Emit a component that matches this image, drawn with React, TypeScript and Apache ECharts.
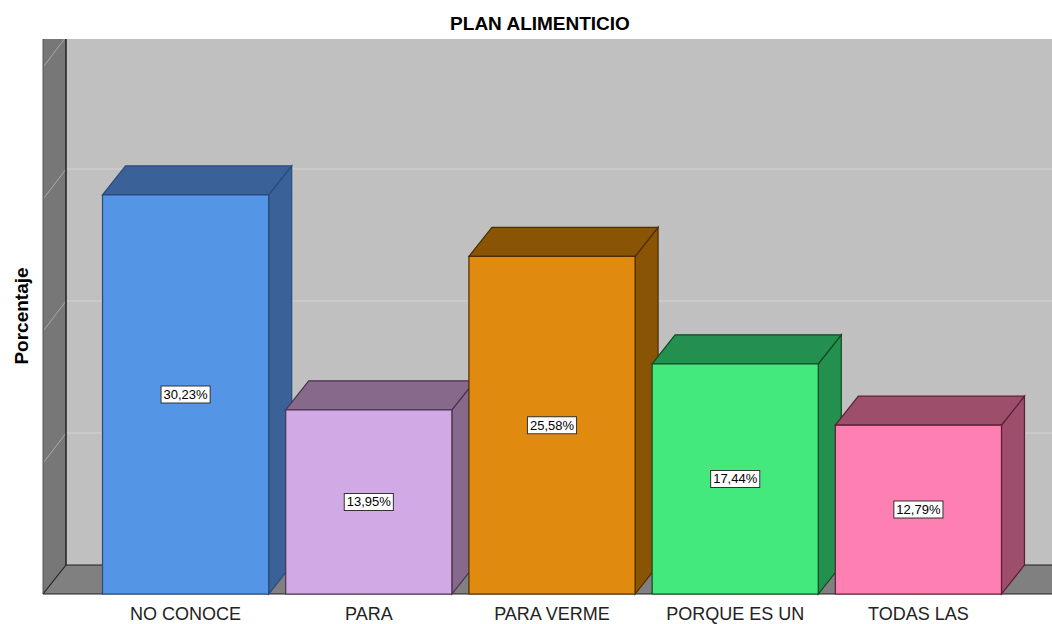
import React, { useEffect, useRef } from "react";
import * as echarts from "echarts";

const categories = ["NO CONOCE", "PARA", "PARA VERME", "PORQUE ES UN", "TODAS LAS"];
const percentages = [30.23, 13.95, 25.58, 17.44, 12.79];
const gridTicks = [10, 20, 30, 40];
const axisMax = 40;

const frontColors = ["#5595e5", "#d0a9e5", "#e08a0f", "#44e97e", "#fe7fb1"];
const darkColors = ["#3a6198", "#87698b", "#8a5405", "#249050", "#9c4e6b"];
const edgeColors = ["#2a4a7a", "#4a334e", "#4f2c00", "#0f4a22", "#5a1e35"];

const FONT = "'Liberation Sans', Arial, Helvetica, sans-serif";
const DX = 23;
const DY = 29;
const WALL_OFFSET = 51;

export default function App() {
  const ref = useRef<HTMLDivElement>(null);
  useEffect(() => {
    document.body.style.margin = "0";
    if (!ref.current) return;
    const chart = echarts.init(ref.current, null, { renderer: "svg" });

    const wallRender = (params: any, api: any) => {
      const cs = params.coordSys;
      const y0 = api.coord([0, 0])[1];
      const left = cs.x - WALL_OFFSET;
      const inner = left + DX;
      const right = api.getWidth();
      const top = api.coord([0, axisMax])[1] - DY + 2;
      const backY0 = y0 - DY;
      const children: any[] = [];
      children.push({
        type: "rect",
        shape: { x: inner, y: top, width: right - inner, height: backY0 - top },
        style: { fill: "#c0c0c0" },
      });
      gridTicks.forEach((v) => {
        const gy = api.coord([0, v])[1];
        if (gy - DY > top) {
          children.push({
            type: "line",
            shape: { x1: inner, y1: gy - DY, x2: right, y2: gy - DY },
            style: { stroke: "#d4d4d4", lineWidth: 1 },
          });
        }
      });
      children.push({
        type: "polygon",
        shape: { points: [[left, top], [inner, top], [inner, backY0], [left, y0]] },
        style: { fill: "#777777" },
      });
      gridTicks.forEach((v) => {
        const gy = api.coord([0, v])[1];
        const yEnd = Math.max(gy - DY, top);
        const xEnd = left + (DX * (gy - yEnd)) / DY;
        children.push({
          type: "line",
          shape: { x1: left + 1, y1: gy, x2: xEnd, y2: yEnd },
          style: { stroke: "#a9a9a9", lineWidth: 1 },
        });
      });
      children.push({
        type: "polygon",
        shape: { points: [[left, y0], [inner, backY0], [right, backY0], [right, y0]] },
        style: { fill: "#808080" },
      });
      const dark = "#1e1e1e";
      children.push({
        type: "line",
        shape: { x1: inner, y1: top, x2: inner, y2: backY0 },
        style: { stroke: dark, lineWidth: 1.5 },
      });
      children.push({
        type: "line",
        shape: { x1: left, y1: y0, x2: inner, y2: backY0 },
        style: { stroke: dark, lineWidth: 1.2 },
      });
      children.push({
        type: "line",
        shape: { x1: inner, y1: backY0, x2: right, y2: backY0 },
        style: { stroke: dark, lineWidth: 1.2 },
      });
      children.push({
        type: "line",
        shape: { x1: left, y1: y0, x2: right, y2: y0 },
        style: { stroke: dark, lineWidth: 1.2 },
      });
      children.push({
        type: "line",
        shape: { x1: left, y1: top, x2: left, y2: y0 },
        style: { stroke: "#555555", lineWidth: 1 },
      });
      return { type: "group", children };
    };

    const barRender = (params: any, api: any) => {
      const i = api.value(0);
      const v = api.value(1);
      const topPt = api.coord([i, v]);
      const basePt = api.coord([i, 0]);
      const bw = api.size([1, 0])[0] * 0.907;
      const x1 = topPt[0] - bw / 2;
      const x2 = topPt[0] + bw / 2;
      const yT = topPt[1];
      const yB = basePt[1];
      const idx = params.dataIndex;
      const edge = edgeColors[idx];
      const lw = 1.2;
      const label = v.toFixed(2).replace(".", ",") + "%";
      return {
        type: "group",
        children: [
          {
            type: "polygon",
            shape: { points: [[x2, yT], [x2 + DX, yT - DY], [x2 + DX, yB - DY], [x2, yB]] },
            style: { fill: darkColors[idx], stroke: edge, lineWidth: lw },
          },
          {
            type: "polygon",
            shape: { points: [[x1, yT], [x1 + DX, yT - DY], [x2 + DX, yT - DY], [x2, yT]] },
            style: { fill: darkColors[idx], stroke: edge, lineWidth: lw },
          },
          {
            type: "rect",
            shape: { x: x1, y: yT, width: x2 - x1, height: yB - yT },
            style: { fill: frontColors[idx], stroke: edge, lineWidth: lw },
          },
          {
            type: "text",
            x: (x1 + x2) / 2,
            y: (yT + yB) / 2,
            style: {
              text: label,
              fill: "#000000",
              font: "13px " + FONT,
              align: "center",
              verticalAlign: "middle",
              backgroundColor: "#ffffff",
              borderColor: "#333333",
              borderWidth: 1,
              padding: [2, 2, 1, 2],
            },
          },
        ],
      };
    };

    chart.setOption({
      animation: false,
      backgroundColor: "#ffffff",
      title: {
        text: "PLAN ALIMENTICIO",
        left: 535,
        top: 9,
        textAlign: "center",
        textStyle: { fontFamily: FONT, fontWeight: "bold", fontSize: 19, color: "#000000" },
      },
      grid: { left: 94, right: 42, top: 66, bottom: 30, containLabel: false },
      xAxis: {
        type: "category",
        data: categories,
        axisLine: { show: false },
        axisTick: { show: false },
        axisLabel: { fontFamily: FONT, fontSize: 18, color: "#222222", margin: 11, interval: 0 },
        splitLine: { show: false },
      },
      yAxis: {
        type: "value",
        min: 0,
        max: axisMax,
        interval: 10,
        show: false,
      },
      graphic: [
        {
          type: "text",
          x: 21,
          y: 316,
          rotation: Math.PI / 2,
          style: {
            text: "Porcentaje",
            font: "bold 19px " + FONT,
            fill: "#000000",
            align: "center",
            verticalAlign: "middle",
          },
        },
      ],
      series: [
        {
          type: "custom",
          renderItem: wallRender,
          data: [[0, 0]],
          clip: false,
          silent: true,
          z: 1,
        },
        {
          type: "custom",
          renderItem: barRender,
          data: percentages.map((p, i) => [i, p]),
          encode: { x: 0, y: 1 },
          clip: false,
          z: 2,
        },
      ],
    });
    return () => chart.dispose();
  }, []);
  return <div ref={ref} style={{ width: 1052, height: 624 }} />;
}
